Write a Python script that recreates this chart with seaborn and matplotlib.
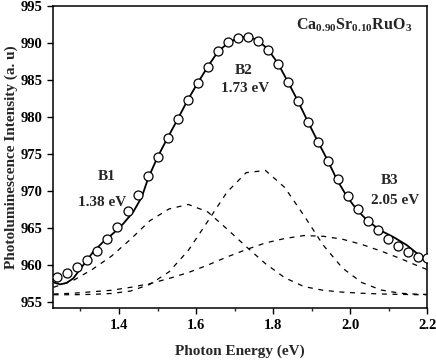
import matplotlib
matplotlib.use("Agg")
import matplotlib.pyplot as plt
import seaborn as sns
import pandas as pd
from matplotlib.ticker import MultipleLocator

# Measured photoluminescence (open circles)
energy = [1.240, 1.266, 1.292, 1.318, 1.344, 1.370, 1.396, 1.422, 1.448, 1.474,
          1.500, 1.526, 1.552, 1.578, 1.604, 1.630, 1.656, 1.682, 1.708, 1.734,
          1.760, 1.786, 1.812, 1.838, 1.864, 1.890, 1.916, 1.942, 1.968, 1.994,
          2.020, 2.046, 2.072, 2.098, 2.124, 2.150, 2.175, 2.200]
intensity = [958.4, 959.0, 959.7, 960.7, 961.9, 963.5, 965.2, 967.3, 969.5, 972.0,
             974.6, 977.2, 979.7, 982.3, 984.6, 986.8, 988.9, 990.1, 990.7, 990.8,
             990.3, 989.1, 987.2, 984.8, 982.2, 979.4, 976.7, 974.1, 971.6, 969.4,
             967.6, 966.0, 964.7, 963.5, 962.6, 961.8, 961.1, 961.0]

# Total fit (solid line)
fit_x = [1.228, 1.247, 1.264, 1.281, 1.307, 1.333, 1.359, 1.385, 1.411, 1.437,
         1.459, 1.476, 1.500, 1.526, 1.552, 1.578, 1.604, 1.630, 1.656, 1.682,
         1.708, 1.734, 1.760, 1.786, 1.812, 1.838, 1.864, 1.890, 1.916, 1.942,
         1.965, 1.991, 2.017, 2.043, 2.078, 2.112, 2.147, 2.173, 2.200]
fit_y = [957.7, 957.4, 957.6, 958.2, 960.0, 961.8, 963.15, 964.3, 965.6, 967.2,
         969.2, 971.8, 974.6, 977.2, 979.7, 982.3, 984.6, 986.8, 988.8, 990.0,
         990.7, 990.9, 990.4, 989.2, 987.3, 984.8, 982.2, 979.4, 976.7, 974.1,
         971.6, 969.3, 967.5, 966.1, 964.7, 963.8, 962.7, 961.6, 960.3]

# Component bands (dashed)
comp_x = [1.23, 1.28, 1.33, 1.38, 1.43, 1.48, 1.53, 1.58, 1.63, 1.68, 1.73,
          1.78, 1.83, 1.88, 1.93, 1.98, 2.03, 2.08, 2.13, 2.18, 2.20]
b1_y = [957.0, 957.9, 959.4, 961.2, 963.5, 966.0, 967.6, 968.2, 967.2, 964.9, 962.5,
        960.2, 958.3, 957.1, 956.6, 956.35, 956.2, 956.1, 956.05, 956.0, 956.0]
b2_y = [956.0, 956.0, 956.05, 956.17, 956.5, 957.4, 959.1, 962.0, 965.9, 969.85, 972.5,
        972.8, 970.5, 966.7, 962.7, 959.6, 957.65, 956.64, 956.2, 956.06, 956.05]
b3_y = [956.1, 956.2, 956.4, 956.6, 957.0, 957.5, 958.2, 959.0, 960.0, 961.1, 962.1,
        963.0, 963.6, 964.0, 963.9, 963.5, 962.8, 961.9, 960.9, 959.8, 959.4]

x_ticks = [1.4, 1.6, 1.8, 2.0, 2.2]
y_ticks = [955, 960, 965, 970, 975, 980, 985, 990, 995]

sns.set_style("ticks")
plt.rcParams['font.family'] = ['Liberation Serif', 'DejaVu Serif']
plt.rcParams['font.weight'] = 'bold'
plt.rcParams['axes.labelweight'] = 'bold'
plt.rcParams['mathtext.fontset'] = 'custom'
plt.rcParams['mathtext.rm'] = 'Liberation Serif:bold'
plt.rcParams['mathtext.bf'] = 'Liberation Serif:bold'

fig = plt.figure(figsize=(4.36, 3.62), dpi=100)
ax = fig.add_axes([0.121, 0.148, 0.859, 0.835])

dash = (0, (4.0, 4.5))
for comp in (b1_y, b2_y, b3_y):
    sns.lineplot(x=comp_x, y=comp, ax=ax, color="black", lw=0.9,
                 linestyle=dash, sort=False)

sns.lineplot(x=fit_x, y=fit_y, ax=ax, color="black", lw=1.3, sort=False)
sns.scatterplot(x=energy, y=intensity, ax=ax, marker="o", s=42,
                facecolor="white", edgecolor="black", linewidth=0.9, zorder=5)

ax.set_xlim(1.228, 2.2)
ax.set_ylim(954.15, 995)
ax.set_xticks(x_ticks)
ax.set_xticklabels([f"{v:.1f}" for v in x_ticks])
ax.set_yticks(y_ticks)
ax.xaxis.set_minor_locator(MultipleLocator(0.1))
ax.tick_params(axis="both", which="major", direction="out", length=4, width=1,
               labelsize=10.5, colors="black")
ax.tick_params(axis="x", which="minor", direction="out", length=2.5, width=1)
for lbl in ax.get_xticklabels() + ax.get_yticklabels():
    lbl.set_fontweight("bold")
for sp in ax.spines.values():
    sp.set_visible(True)
    sp.set_linewidth(1.1)
    sp.set_color("black")

ax.set_xlabel("Photon Energy (eV)", fontsize=11, fontweight="bold", labelpad=9)
ax.set_ylabel("Photoluminescence Intensity (a. u)", fontsize=11, fontweight="bold", labelpad=2)

tk = dict(fontsize=11, fontweight="bold", ha="center", va="center")
ax.text(1.369, 972.0, "B1", **tk)
ax.text(1.355, 968.4, "1.38 eV", **tk)
ax.text(1.723, 986.3, "B2", **tk)
ax.text(1.727, 983.9, "1.73 eV", **tk)
ax.text(2.101, 971.4, "B3", **tk)
ax.text(2.117, 968.8, "2.05 eV", **tk)
ax.text(2.009, 992.4, r"Ca$_{\mathbf{0.90}}$Sr$_{\mathbf{0.10}}$RuO$_{\mathbf{3}}$",
        fontsize=11.5, fontweight="bold", ha="center", va="center")

fig.savefig("out.png", dpi=100)
